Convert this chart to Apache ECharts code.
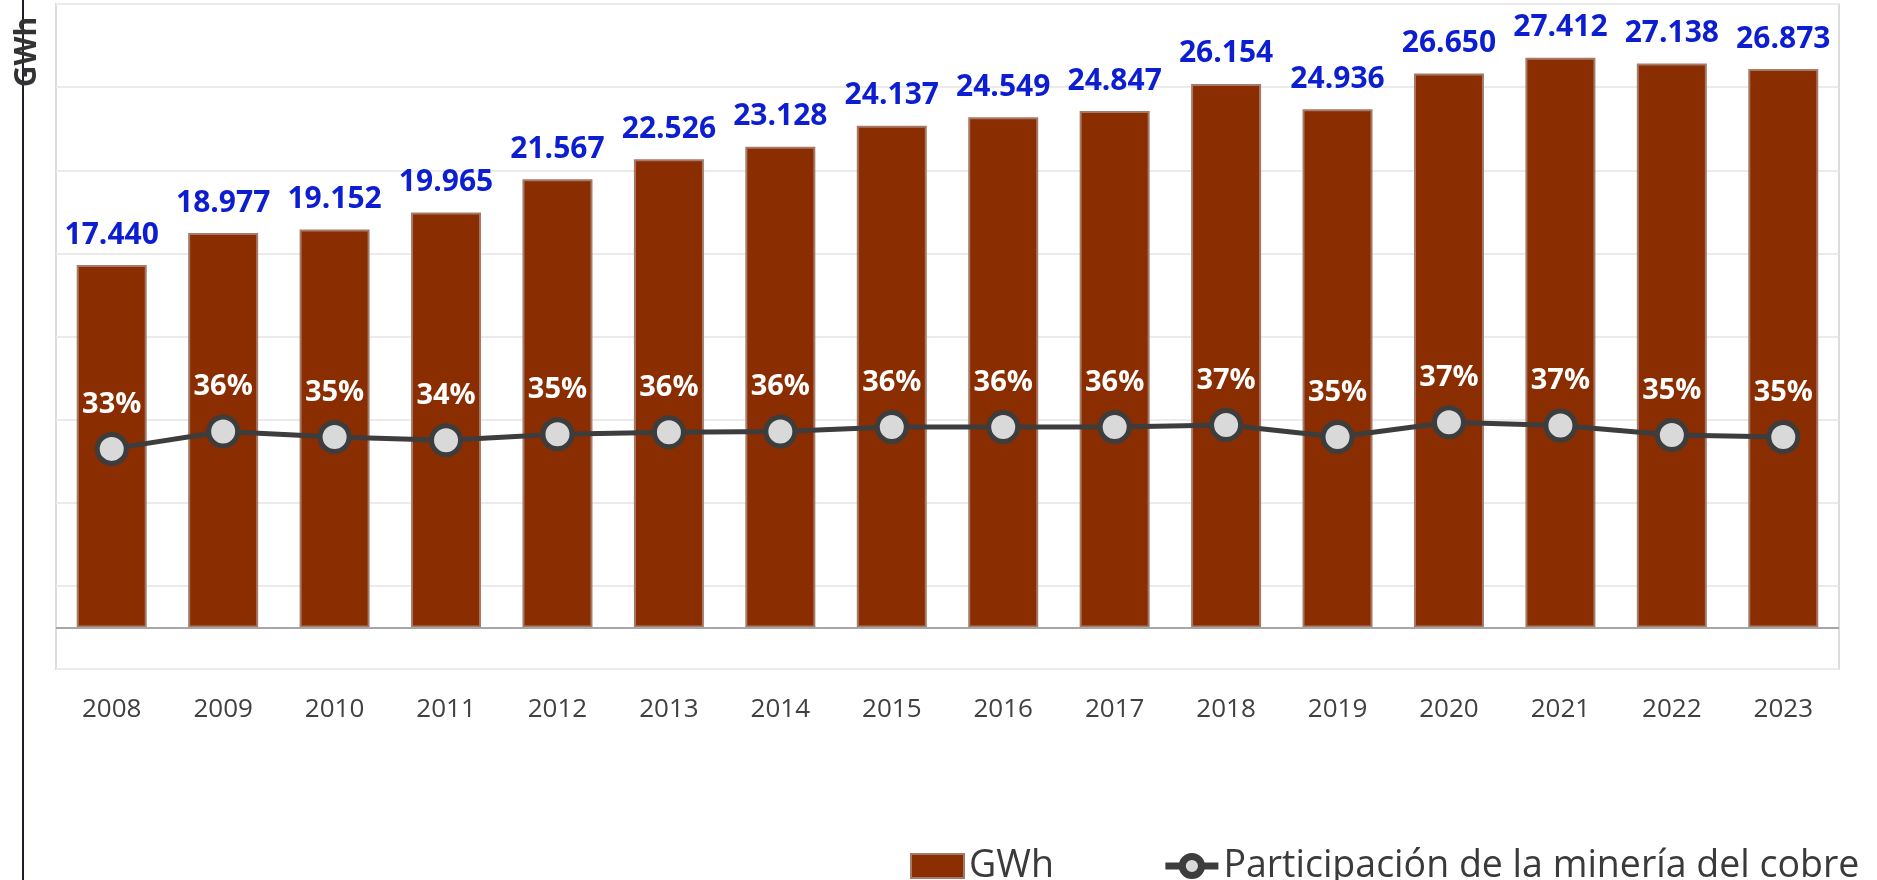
<!DOCTYPE html>
<html>
<head>
<meta charset="utf-8">
<title>Generación eléctrica y participación de la minería del cobre</title>
<script src="https://cdn.jsdelivr.net/npm/echarts@6/dist/echarts.min.js"></script>
<style>
  html, body { margin: 0; padding: 0; background: #ffffff; }
  #chart { width: 1877px; height: 880px; }
</style>
</head>
<body>
<div id="chart"></div>
<script>
// Años del periodo
const years = ['2008', '2009', '2010', '2011', '2012', '2013', '2014', '2015',
               '2016', '2017', '2018', '2019', '2020', '2021', '2022', '2023'];

// Consumo eléctrico en GWh
const gwh = [17440, 18977, 19152, 19965, 21567, 22526, 23128, 24137,
             24549, 24847, 26154, 24936, 26650, 27412, 27138, 26873];

// Participación de la minería del cobre (%)
const share = [33.1, 35.7, 34.9, 34.4, 35.3, 35.6, 35.7, 36.4,
               36.4, 36.4, 36.7, 34.9, 37.1, 36.6, 35.2, 34.9];

const FONT = '"Open Sans", "Noto Sans", sans-serif';

// 17440 -> "17.440"
function miles(v) {
  const t = Math.floor(v / 1000);
  const r = String(Math.round(v % 1000)).padStart(3, '0');
  return t + '.' + r;
}

const chart = echarts.init(document.getElementById('chart'), null, { renderer: 'canvas' });

chart.setOption({
  backgroundColor: '#ffffff',
  animation: false,
  textStyle: { fontFamily: FONT },
  grid: {
    left: 56, top: 4, right: 38, bottom: 211,
    show: true,
    backgroundColor: '#ffffff',
    borderColor: '#dcdcdc',
    borderWidth: 2,
    containLabel: false,
    outerBoundsMode: 'none'
  },
  legend: {
    left: 905,
    top: 842,
    itemWidth: 53,
    itemHeight: 24,
    itemGap: 108,
    itemTextGap: 6,
    textStyle: { fontFamily: FONT, fontSize: 37.5, color: '#3a3a3a' },
    data: [
      { name: 'GWh', icon: 'rect' },
      {
        name: 'Participación de la minería del cobre',
        itemStyle: { color: '#d9d9d9', borderColor: '#3d3d3d', borderWidth: 7 },
        lineStyle: { color: '#3d3d3d', width: 7 }
      }
    ]
  },
  xAxis: {
    type: 'category',
    data: years,
    axisLine: { show: false, onZero: false },
    axisTick: { show: false },
    splitLine: { show: false },
    axisLabel: {
      margin: 28,
      fontFamily: FONT,
      fontSize: 26,
      color: '#404040'
    }
  },
  yAxis: [
    {
      type: 'value',
      min: -2000,
      max: 30000,
      axisLine: { show: false },
      axisTick: { show: false },
      axisLabel: { show: false },
      splitLine: { show: false }
    },
    {
      type: 'value',
      min: 0,
      max: 100,
      interval: 12.5,
      position: 'right',
      axisLine: { show: false },
      axisTick: { show: false },
      axisLabel: { show: false },
      splitLine: { show: true, lineStyle: { color: '#ebebeb', width: 2 } }
    }
  ],
  graphic: [
    {
      type: 'line',
      shape: { x1: 23, y1: 0, x2: 23, y2: 880 },
      style: { stroke: '#1e1e28', lineWidth: 2 },
      z: 10
    },
    {
      type: 'text',
      x: 27,
      y: 52,
      rotation: Math.PI / 2,
      style: {
        text: 'GWh',
        fontFamily: FONT,
        fontSize: 30,
        fontWeight: 'bold',
        fill: '#333333',
        align: 'center',
        verticalAlign: 'middle'
      },
      z: 11
    }
  ],
  series: [
    {
      name: 'GWh',
      type: 'bar',
      yAxisIndex: 0,
      data: gwh,
      barWidth: 70,
      itemStyle: { color: '#8a2e02', borderColor: '#a57a68', borderWidth: 2 },
      label: {
        show: true,
        position: 'top',
        distance: 15,
        formatter: p => miles(p.value),
        fontFamily: FONT,
        fontSize: 30,
        fontWeight: 'bold',
        color: '#0c1ecf'
      },
      markLine: {
        silent: true,
        symbol: 'none',
        label: { show: false },
        lineStyle: { color: '#a6a6a6', width: 2, type: 'solid' },
        data: [{ yAxis: 0 }]
      },
      z: 2
    },
    {
      name: 'Participación de la minería del cobre',
      type: 'line',
      yAxisIndex: 1,
      data: share,
      symbol: 'circle',
      symbolSize: 29,
      lineStyle: { color: '#3d3d3d', width: 5 },
      itemStyle: { color: '#d9d9d9', borderColor: '#3d3d3d', borderWidth: 5 },
      label: {
        show: true,
        position: 'top',
        distance: 13,
        formatter: p => Math.round(p.value) + '%',
        fontFamily: FONT,
        fontSize: 29,
        fontWeight: 'bold',
        color: '#ffffff'
      },
      z: 5
    }
  ]
});
</script>
</body>
</html>
